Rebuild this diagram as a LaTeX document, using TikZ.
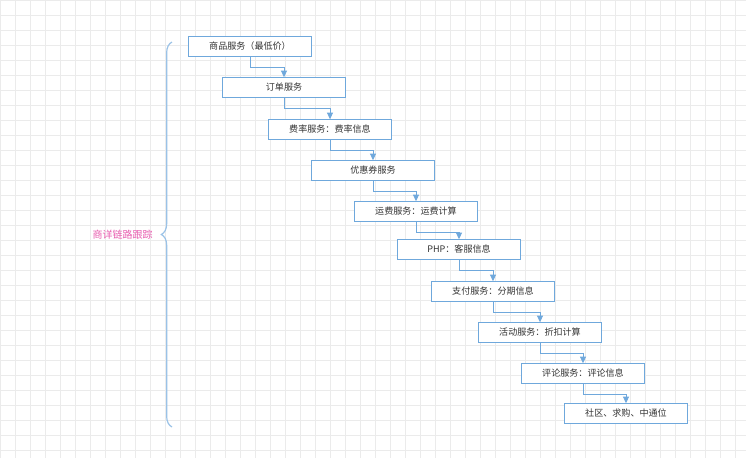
\documentclass[tikz,border=0pt]{standalone}
\usepackage{fontspec}
\newfontfamily\cjk{Noto Sans CJK SC}
\usetikzlibrary{arrows.meta,decorations.pathreplacing}
\definecolor{bl}{HTML}{6FA8DC}
\definecolor{gridc}{HTML}{EBEBEB}
\definecolor{pk}{HTML}{E85AAE}
\tikzset{x=0.75pt,y=-0.75pt,
 svc/.style={draw=bl,line width=0.9pt,fill=white,minimum width=92.5pt,minimum height=14.5pt,inner sep=0pt,font=\cjk\fontsize{6.8}{8}\selectfont,text=black!80},
 conn/.style={draw=bl,line width=0.7pt,-{Triangle[length=5pt,width=4.5pt]}}}
\begin{document}
\begin{tikzpicture}
\useasboundingbox (0,0) rectangle (746,458);
\fill[white] (0,0) rectangle (746,458);
\draw[gridc,line width=0.4pt] (0,0) grid[step=11.25pt] (746,458);
\foreach \i/\cx/\cy/\t in {0/250/46.5/商品服务（最低价）,1/284/87.5/订单服务,2/330/129.5/费率服务：费率信息,3/373/170.5/优惠券服务,4/416/211.5/运费服务：运费计算,5/459/249.5/PHP：客服信息,6/493/291.5/支付服务：分期信息,7/540/332.5/活动服务：折扣计算,8/583/373.5/评论服务：评论信息,9/626/413.5/社区、求购、中通位}{
 \node[svc] (b\i) at (\cx,\cy) {\t};
}
\foreach \i [evaluate=\i as \j using int(\i+1)] in {0,...,8}{
 \draw[conn] (b\i.south) -- ++(0,10.5) -| (b\j.north);
}
\draw[bl!70,line width=0.9pt,decorate,decoration={brace,amplitude=8pt,mirror}] (172,42) -- (172,427);
\coordinate (tip) at (153,235);
\node[font=\cjk\fontsize{7.5}{9}\selectfont,text=pk,anchor=east,inner sep=0pt] (lab) at (tip) {商详链路跟踪};
\end{tikzpicture}
\end{document}
